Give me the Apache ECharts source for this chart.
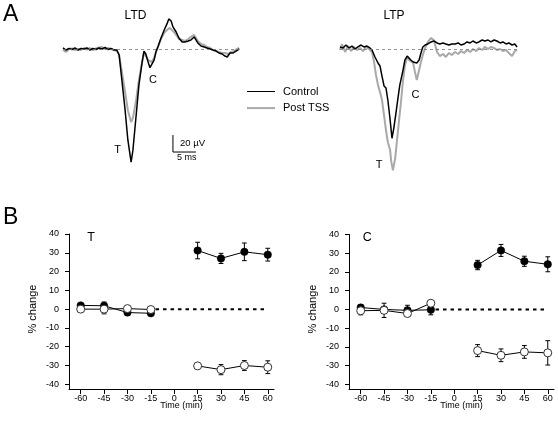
<!DOCTYPE html>
<html>
<head>
<meta charset="utf-8">
<script src="https://cdn.jsdelivr.net/npm/echarts@6/dist/echarts.min.js"></script>
<style>html,body{margin:0;padding:0;background:#fff}#c{width:558px;height:422px}</style>
</head>
<body>
<div id="c"></div>
<script>
// ---------- Panel A: field potential traces [time (ms), amplitude (µV)] ----------
const ltdControl = [[0,1.2],[0.65,-1.2],[1.3,0.6],[1.96,-0.6],[2.6,1.2],[3.26,-1.2],[3.9,0.6],[4.57,0],[5.2,1.2],[5.87,-1.2],[6.5,0.6],[7.17,-0.6],[7.8,1.2],[8.48,0],[9.13,1.8],[9.78,-0.6],[10.4,0.6],[11.1,-1.2],[11.7,-1.2],[12.2,-7.1],[12.8,-36.6],[13.5,-72],[14.1,-107],[14.8,-133],[15.2,-119],[15.9,-78],[16.5,-42.5],[17.2,-15.3],[17.6,-2.4],[18.0,-5.9],[18.5,-15.3],[18.9,-22],[19.3,-20],[19.8,-13],[20.2,-3.5],[20.7,3.5],[21.3,13],[22.0,22.4],[22.6,29.5],[23.0,35.4],[23.5,33],[23.9,26],[24.6,20],[25.2,13],[25.9,8.3],[26.5,8.3],[27.2,9.4],[27.8,10.6],[28.5,14.2],[28.9,13],[29.3,7.1],[30.0,3.5],[30.7,2.4],[31.3,1.2],[32.0,0],[32.6,-1.2],[33.3,-2.4],[33.9,-4.7],[34.6,-5.9],[35.2,-8.3],[35.7,-9.4],[36.3,-4.7],[37.0,-4.7],[37.6,-2.4],[38.3,0]];
const ltdPost = [[0,-1.2],[0.65,-3.5],[1.3,0],[1.96,0.6],[2.6,-1.2],[3.26,0],[3.9,-1.2],[4.57,1.2],[5.2,-0.6],[5.87,1.2],[6.5,-1.2],[7.17,0.6],[7.8,1.8],[8.48,2.4],[9.13,0],[9.78,1.2],[10.4,0],[11.1,-1.2],[11.7,-2.4],[12.2,-7.1],[12.8,-27],[13.5,-50.7],[14.1,-72],[14.8,-86],[15.2,-81],[15.9,-60],[16.5,-36.6],[17.2,-15.3],[17.6,-4.7],[18.0,-8.3],[18.5,-13],[18.9,-14.2],[19.3,-15.3],[19.8,-10.6],[20.2,-3.5],[20.7,3.5],[21.3,11.8],[22.0,18.9],[22.6,22.4],[23.2,24.8],[23.9,21.2],[24.6,16.5],[25.2,11.8],[25.9,10.6],[26.5,9.4],[27.2,11.8],[27.8,14.2],[28.5,16.5],[28.9,15.3],[29.3,9.4],[30.0,5.9],[30.7,4.7],[31.3,2.4],[32.0,1.2],[32.6,-1.2],[33.3,-2.4],[33.9,-3.5],[34.6,-4.7],[35.2,-4.7],[35.9,-5.9],[36.5,-3.5],[37.2,-2.4],[37.8,0],[38.3,1.2]];
const ltpControl = [[0,2.4],[0.65,1.2],[1.3,4.7],[1.96,1.2],[2.6,3.5],[3.26,0],[3.9,2.4],[4.57,4.7],[5.2,2.4],[5.87,3.5],[6.5,1.2],[6.96,-1.2],[7.6,-9.4],[8.26,-16.5],[8.7,-20],[9.13,-31.8],[9.57,-43.5],[10.0,-46],[10.4,-60],[10.9,-83.5],[11.3,-105],[11.7,-93],[12.2,-74],[12.6,-57.8],[13.0,-42.5],[13.7,-24.8],[14.1,-13],[14.6,-8.3],[15.0,-10.6],[15.4,-13],[15.9,-15.3],[16.3,-15.3],[16.7,-16.5],[17.2,-13],[17.6,-4.7],[18.0,2.4],[18.5,4.7],[19.1,5.9],[19.8,8.3],[20.4,9.4],[21.1,7.1],[21.7,5.9],[22.4,7.1],[23.0,5.9],[23.7,4.7],[24.3,5.9],[25.0,5.9],[25.7,7.1],[26.3,4.7],[27.0,5.9],[27.6,8.3],[28.3,7.1],[28.9,9.4],[29.6,7.1],[30.2,8.3],[30.9,10.6],[31.5,9.4],[32.2,10.6],[32.8,8.3],[33.5,10.6],[34.1,9.4],[34.8,7.1],[35.4,8.3],[36.1,5.9],[36.7,7.1],[37.4,4.7],[38.0,5.9],[38.5,2.4]];
const ltpPost = [[0,-1.2],[0.43,5.9],[1.09,-3.5],[1.74,3.5],[2.4,-2.4],[3.04,2.4],[3.7,-1.2],[4.35,1.2],[5.0,-2.4],[5.65,2.4],[6.3,0],[6.96,-3.5],[7.4,-15.3],[7.83,-30.6],[8.26,-42.5],[8.7,-50.7],[9.13,-60],[9.57,-77.9],[10.0,-95.6],[10.4,-109.7],[10.9,-119],[11.1,-131],[11.5,-142.8],[12.0,-128.6],[12.4,-107],[12.8,-86],[13.3,-60],[13.7,-36.6],[14.1,-20],[14.6,-9.4],[15.0,-13],[15.4,-15.3],[15.9,-16.5],[16.3,-27],[16.7,-36.6],[17.2,-24.8],[17.6,-15.3],[18.0,-7.1],[18.5,1.2],[19.1,8.3],[19.8,13],[20.4,10.6],[21.1,-3.5],[21.7,-8.3],[22.4,-5.9],[23.0,-9.4],[23.7,-4.7],[24.3,-7.1],[25.0,-3.5],[25.7,-5.9],[26.3,-2.4],[27.0,-4.7],[27.6,-1.2],[28.3,-3.5],[28.9,0],[29.6,-2.4],[30.2,1.2],[30.9,-1.2],[31.5,2.4],[32.2,0],[32.8,2.4],[33.5,1.2],[34.1,-1.2],[34.8,0],[35.4,-2.4],[36.1,-1.2],[36.7,-4.7],[37.4,-8.3],[38.0,-2.4],[38.5,-1.2]];
const scaleBar = [[23.9,-101.2],[23.9,-121.2],[28.9,-121.2]]; // 20 µV, 5 ms

// ---------- Panel B: % change vs time (min) ----------
const times = [-60,-45,-30,-15,15,30,45,60];
const tickTimes = [-60,-45,-30,-15,0,15,30,45,60];
const tickPct = [-40,-30,-20,-10,0,10,20,30,40];
// T component
const tFilled    = [2.0, 1.8, -1.8, -2.2, 31.2, 27.0, 30.5, 29.0];
const tFilledErr = [1.0, 2.0, 1.5, 1.2, 4.4, 2.7, 4.7, 3.4];
const tOpen      = [0.0, 0.0, 0.3, -0.2, -30.2, -32.2, -30.0, -30.9];
const tOpenErr   = [1.0, 2.5, 1.0, 1.5, 1.0, 2.7, 2.6, 3.4];
// C component
const cFilled    = [1.0, 0.0, -0.5, -0.2, 23.7, 31.5, 25.7, 24.1];
const cFilledErr = [1.6, 1.5, 2.7, 2.7, 2.5, 3.2, 2.7, 4.0];
const cOpen      = [-0.7, -0.5, -2.2, 3.3, -22.0, -24.5, -22.7, -23.2];
const cOpenErr   = [2.2, 3.8, 1.6, 1.0, 3.2, 3.4, 3.4, 6.5];
const zeroLine = [[-12,0],[60,0]];

const FONT = "'Liberation Sans', Arial, sans-serif";

function pts(vals, from, to){ const r=[]; for(let i=from;i<to;i++) r.push([times[i], vals[i]]); return r; }
function errs(vals, e){ return times.map((t,i)=>[t, vals[i]-e[i], vals[i]+e[i]]); }

function errSeries(vals, e, idx){
  return {
    type:'custom', xAxisIndex:idx, yAxisIndex:idx, silent:true, z:2,
    data: errs(vals, e), encode:{x:0, y:[1,2]},
    renderItem: function(params, api){
      const x = api.value(0), lo = api.value(1), hi = api.value(2);
      const a = api.coord([x, hi]), b = api.coord([x, lo]);
      const w = 2.4;
      const st = {stroke:'#000', lineWidth:1};
      return {type:'group', children:[
        {type:'line', shape:{x1:a[0],y1:a[1],x2:b[0],y2:b[1]}, style:st},
        {type:'line', shape:{x1:a[0]-w,y1:a[1],x2:a[0]+w,y2:a[1]}, style:st},
        {type:'line', shape:{x1:b[0]-w,y1:b[1],x2:b[0]+w,y2:b[1]}, style:st}
      ]};
    }
  };
}
function markerSeries(vals, from, to, idx, filled){
  return {
    type:'line', xAxisIndex:idx, yAxisIndex:idx, z: filled?3:4,
    data: pts(vals, from, to), symbol:'circle', symbolSize: filled?7.5:8, showSymbol:true,
    lineStyle:{color:'#000', width:1},
    itemStyle: filled ? {color:'#000', borderColor:'#000', borderWidth:0.5} : {color:'#fff', borderColor:'#333', borderWidth:1},
    animation:false, silent:true
  };
}
function panelSeries(filled, fErr, open, oErr, idx){
  return [
    errSeries(filled, fErr, idx),
    markerSeries(filled, 0, 4, idx, true),
    markerSeries(filled, 4, 8, idx, true),
    errSeries(open, oErr, idx),
    markerSeries(open, 0, 4, idx, false),
    markerSeries(open, 4, 8, idx, false),
    {type:'line', xAxisIndex:idx, yAxisIndex:idx, data:zeroLine, symbol:'none', z:1,
     lineStyle:{color:'#000', width:2, type:[3.5,4]}, silent:true}
  ];
}

function traceSeries(data, name, idx){
  const ctrl = name === 'Control';
  return {type:'line', name:name, xAxisIndex:idx, yAxisIndex:idx, data:data, symbol:'none',
    z: ctrl?3:2, lineStyle:{color: ctrl?'#000':'#a9a9a9', width: ctrl?1.5:2}, itemStyle:{color: ctrl?'#000':'#a9a9a9'}, silent:true};
}
const baseMark = {silent:true, symbol:'none', label:{show:false},
  lineStyle:{color:'#777', width:0.8, type:[3,3]}, data:[{yAxis:0}]};

const traceX = (max)=>({type:'value', min:0, max:max, show:false});
const traceY = {type:'value', min:-160, max:40, show:false};

function bX(idx){ return {type:'value', gridIndex:idx, min:-67.5, max:64,
  axisLine:{show:true, onZero:false, lineStyle:{color:'#000', width:1}},
  axisTick:{show:true, length:5, customValues:tickTimes, lineStyle:{color:'#000'}},
  axisLabel:{customValues:tickTimes, margin:5, fontSize:9, color:'#000', fontFamily:FONT},
  splitLine:{show:false}}; }
function bY(idx){ return {type:'value', gridIndex:idx, min:-42.5, max:40,
  axisLine:{show:true, onZero:false, lineStyle:{color:'#000', width:1}},
  axisTick:{show:true, length:4, customValues:tickPct, lineStyle:{color:'#000'}},
  axisLabel:{customValues:tickPct, margin:10, fontSize:9, color:'#000', fontFamily:FONT},
  splitLine:{show:false}}; }

function txt(x, y, s, size, align, extra){
  return Object.assign({type:'text', x:x, y:y, silent:true, z:100,
    style:{text:s, fontSize:size, fontFamily:FONT, fill:'#000', align:align||'center', verticalAlign:'middle'}}, extra||{});
}

const chart = echarts.init(document.getElementById('c'), null, {renderer:'canvas'});
const ltdC = traceSeries(ltdControl, 'Control', 0); ltdC.markLine = baseMark;
const ltpC = traceSeries(ltpControl, 'Control', 1); ltpC.markLine = baseMark;
chart.setOption({
  animation:false,
  backgroundColor:'#fff',
  textStyle:{fontFamily:FONT},
  grid:[
    {left:63, top:15, width:176.2, height:170},
    {left:340, top:15, width:177.1, height:170},
    {left:69, top:234, width:205, height:155},
    {left:349, top:234.5, width:205, height:154.5}
  ],
  xAxis:[Object.assign(traceX(38.3),{gridIndex:0}), Object.assign(traceX(38.5),{gridIndex:1}), bX(2), bX(3)],
  yAxis:[Object.assign({},traceY,{gridIndex:0}), Object.assign({},traceY,{gridIndex:1}), bY(2), bY(3)],
  legend:{orient:'vertical', left:247, top:86, padding:0, itemWidth:28, itemHeight:14, itemGap:5.6,
    symbolKeepAspect:true,
    data:[
      {name:'Control', icon:'path://M0,0h28v1h-28z'},
      {name:'Post TSS', icon:'path://M0,0h14v1h-14z'}
    ], selectedMode:false,
    textStyle:{fontSize:11, color:'#000', fontFamily:FONT, padding:[0,0,0,3]}},
  series:[
    traceSeries(ltdPost, 'Post TSS', 0), ltdC,
    traceSeries(ltpPost, 'Post TSS', 1), ltpC,
    {type:'line', xAxisIndex:0, yAxisIndex:0, data:scaleBar, symbol:'none', lineStyle:{color:'#000', width:1}, silent:true},
    ...panelSeries(tFilled, tFilledErr, tOpen, tOpenErr, 2),
    ...panelSeries(cFilled, cFilledErr, cOpen, cOpenErr, 3)
  ],
  graphic:[
    txt(3, 15, 'A', 23, 'left'),
    txt(3, 218, 'B', 23, 'left'),
    txt(135.5, 16, 'LTD', 12),
    txt(394, 16, 'LTP', 12),
    txt(117.5, 150, 'T', 11),
    txt(153, 80, 'C', 11),
    txt(379, 165, 'T', 11),
    txt(415.5, 95, 'C', 11),
    txt(180, 143, '20 \u00b5V', 9.5, 'left'),
    txt(177, 157.5, '5 ms', 9, 'left'),
    txt(87.3, 238, 'T', 12.5, 'left'),
    txt(362.7, 238, 'C', 12.5, 'left'),
    txt(181.5, 405.5, 'Time (min)', 9),
    txt(461.5, 405.5, 'Time (min)', 9),
    txt(33, 309, '% change', 11, 'center', {rotation:Math.PI/2}),
    txt(313, 309, '% change', 11, 'center', {rotation:Math.PI/2})
  ]
});
</script>
</body>
</html>
